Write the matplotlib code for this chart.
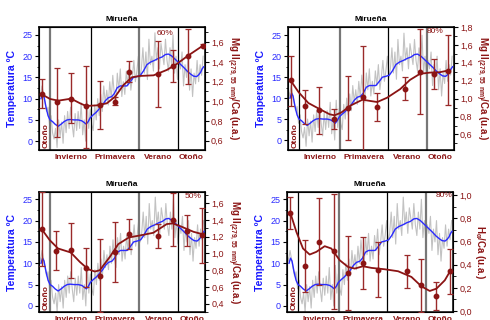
import numpy as np
import matplotlib
matplotlib.use('Agg')
import matplotlib.pyplot as plt
from matplotlib.ticker import MultipleLocator, FuncFormatter
import matplotlib.transforms as mtransforms

plt.rcParams['font.family'] = ['Liberation Sans', 'DejaVu Sans']
plt.rcParams['mathtext.fontset'] = 'custom'
plt.rcParams['mathtext.rm'] = 'Liberation Sans'

# daily temperature (grey), every 3 days from day 0
temp_daily = [12, 10.5, 13, 11, 9, 7, 8, 4, 6, 2,
              0.5, 3, -1.5, 5, 1, 4.5, -0.5, 6, 2, 7,
              3, 8, 4, 1, 6.5, 2.5, 7, 3, 9, 1.5,
              5, 0, 9.5, 3, 7.5, 4, 2.5, 8.5, 5, 10,
              6, 11, 7, 13, 9, 12, 8.5, 14, 10, 15.5,
              11, 9, 16, 12, 17, 10.5, 14, 11, 16.5, 13,
              18, 12, 15, 19, 14, 16.5, 20, 15, 17, 22,
              16, 21, 14.5, 24, 18, 20, 16.5, 25.5, 19, 22,
              17, 23, 20.5, 18, 24, 19, 16.5, 22, 18, 25,
              16, 20, 14.5, 19, 17, 21, 13, 18, 15, 20,
              12, 17, 10.5, 16, 13.5, 19, 14, 18, 15.5, 20]
temp_daily_day = np.arange(0, 330, 3)

# smoothed temperature (blue)
temp_smooth_day = [4, 7, 10, 14, 18, 22, 27, 32, 38, 44, 50, 56, 62, 70, 78, 85, 90, 94, 98, 102,
                   108, 114, 120, 126, 132, 138, 145, 150, 156, 162, 168, 175, 182, 188, 195, 202,
                   208, 215, 222, 230, 238, 245, 252, 258, 265, 272, 280, 288, 296, 302, 308, 314,
                   318, 322, 325, 328]
temp_smooth = [10.0, 11.2, 10.5, 8.0, 6.0, 5.0, 4.6, 4.0, 3.5, 4.0, 4.6, 5.0, 5.1, 5.0, 5.0, 4.8,
               4.4, 4.0, 4.6, 5.5, 6.2, 6.8, 7.6, 8.4, 9.5, 10.2, 10.5, 11.2, 12.6, 13.0, 13.0, 13.0,
               14.0, 15.0, 15.2, 15.5, 16.5, 18.0, 18.6, 19.0, 19.5, 19.8, 20.4, 20.5, 20.0, 19.2,
               18.3, 17.4, 16.4, 15.8, 15.3, 15.2, 15.6, 16.2, 17.0, 17.5]

season_bounds = [22.4, 103.3, 199, 276.5]
season_names = ['Invierno', 'Primavera', 'Verano', 'Otoño']

# panel 1: Mg II 60%
p1_day = [6, 35, 64, 94, 122, 152, 180, 238, 267, 296, 327]
p1_val = [1.071, 0.993, 1.027, 0.949, 0.966, 0.997, 1.302, 1.281, 1.356, 1.461, 1.566]
p1_top = [1.224, 1.342, 1.285, 1.363, 1.207, 1.04, 1.414, 1.617, 1.522, 1.739, 1.58]
p1_bot = [0.929, 0.634, 0.776, 0.529, 0.719, 0.96, 1.2, 0.939, 1.193, 1.173, 1.55]
p1_cday = [6, 22, 38.6, 63.9, 81.8, 93.8, 115.1, 135.1, 151.7, 168.3, 185, 201.6, 228.2, 254.8,
           274.8, 296.1, 326.7]
p1_cval = [1.07, 1.024, 1.007, 1.027, 0.98, 0.953, 0.959, 0.98, 1.047, 1.166, 1.244, 1.258, 1.264,
           1.319, 1.38, 1.461, 1.566]

# panel 2: Mg II 80%
p2_day = [5.2, 34, 62.7, 90.8, 119.6, 148.4, 177.1, 234, 262.7, 290.8, 319]
p2_val = [1.202, 0.914, 0.870, 0.774, 0.899, 1.017, 0.906, 1.110, 1.302, 1.279, 1.309]
p2_top = [1.479, 1.091, 1.135, 0.884, 1.257, 1.59, 1.062, 1.239, 1.778, 1.442, 1.708]
p2_bot = [0.914, 0.722, 0.6, 0.666, 0.537, 0.42, 0.748, 0.98, 0.833, 1.11, 0.932]
p2_cday = [5.2, 20.9, 40.5, 62.7, 83, 92.8, 105.9, 125.5, 148.4, 164.7, 177.8, 197.4, 223.5,
           243.1, 262.7, 282.4, 302, 319]
p2_cval = [1.202, 1.073, 0.951, 0.884, 0.825, 0.814, 0.844, 0.925, 0.988, 0.973, 0.962, 1.01,
           1.106, 1.209, 1.276, 1.29, 1.294, 1.313]

# panel 3: Mg II 50%
p3_day = [5.3, 34.5, 63.1, 93, 120.8, 150.1, 178.6, 237, 265.6, 294.8, 324]
p3_val = [1.292, 1.032, 1.04, 0.832, 0.728, 1.016, 1.232, 1.208, 1.404, 1.272, 1.22]
p3_top = [1.732, 1.272, 1.368, 1.06, 1.168, 1.372, 1.416, 1.356, 1.728, 1.456, 1.548]
p3_bot = [0.848, 0.8, 0.712, 0.6, 0.3, 0.66, 1.048, 1.06, 1.088, 1.088, 0.888]
p3_cday = [5.3, 21.2, 37.8, 63.1, 81, 97.6, 110.9, 120.8, 140.8, 157.4, 178.6, 200.5, 227.1,
           253.7, 265.6, 283.5, 306.8, 324]
p3_cval = [1.292, 1.16, 1.06, 1.012, 0.9, 0.812, 0.784, 0.8, 0.96, 1.112, 1.192, 1.216, 1.248,
           1.352, 1.36, 1.32, 1.26, 1.232]

# panel 4: H alpha 80%
p4_day = [6.6, 35.8, 64.3, 92.8, 121.9, 151.1, 180.3, 237.9, 267.1, 295.6, 324]
p4_val = [0.847, 0.386, 0.599, 0.519, 0.326, 0.412, 0.357, 0.343, 0.222, 0.127, 0.343]
p4_top = [0.986, 0.611, 0.971, 1.01, 0.646, 0.634, 0.597, 0.487, 0.452, 0.251, 0.539]
p4_bot = [0.703, 0.164, 0.222, 0.02, 0.006, 0.193, 0.121, 0.202, -0.01, 0.006, 0.15]
p4_cday = [6.6, 18.6, 31.8, 45.1, 58.3, 74.9, 88.1, 104.7, 121.3, 134.5, 151.1, 167.7, 194.2,
           220.7, 247.2, 267.1, 283.6, 296.9, 313.5, 324]
p4_cval = [0.847, 0.683, 0.539, 0.487, 0.51, 0.559, 0.539, 0.438, 0.38, 0.366, 0.386, 0.372,
           0.36, 0.343, 0.294, 0.213, 0.173, 0.193, 0.265, 0.343]

RED = '#8b1414'
BLUE = '#2a2aff'
mg_label = 'Mg II$_{\\mathregular{(279,55\\ nm)}}$/Ca (u.a.)'
ha_label = 'H$_{\\mathregular{\\alpha}}$/Ca (u.a.)'


def _comma(v, pos):
    return '{:.1f}'.format(v).replace('.', ',')


def _panel(fig, rect, pts, curve, ylim_t, ylim_r, rlabel, pct, pct_xy, vcols):
    '''
    One Mirueña panel: temperature on the left axis, index on the right axis.
    '''
    ax = fig.add_axes(rect)
    ax.plot(temp_daily_day, temp_daily, color='#c2c2c2', lw=0.8, zorder=1)
    ax.plot(temp_smooth_day, temp_smooth, color=BLUE, lw=1.0, zorder=3)
    for b, c in zip(season_bounds, vcols):
        if c == 'g':
            ax.axvline(b, color='#777777', lw=1.6, zorder=2)
        else:
            ax.axvline(b, color='black', lw=0.9, zorder=2)
    ax.set_xlim(0, 330)
    ax.set_ylim(*ylim_t)
    ax.set_xticks([])
    ax.yaxis.set_major_locator(MultipleLocator(5))
    ax.yaxis.set_minor_locator(MultipleLocator(2.5))
    ax.tick_params(axis='y', which='major', labelsize=6.5, labelcolor=BLUE, length=3, width=0.8, pad=1.5)
    ax.tick_params(axis='y', which='minor', length=1.8, width=0.6)
    ax.set_ylabel('Temperatura ºC', color='#1a1aff', fontsize=7.6, fontweight='bold', labelpad=4)
    ax.set_title('Mirueña', fontsize=6, fontweight='bold', pad=4)
    for s in ax.spines.values():
        s.set_linewidth(1.1)
    # season labels
    trans = mtransforms.blended_transform_factory(ax.transData, ax.transAxes)
    edges = season_bounds + [330]
    for i, name in enumerate(season_names):
        ax.text((edges[i] + edges[i + 1]) / 2, -0.03, name, transform=trans, ha='center', va='top',
                fontsize=6, fontweight='bold', color=RED)
    ax.text(0.04, 0.02, 'Otoño', transform=ax.transAxes, rotation=90, ha='center', va='bottom',
            fontsize=6, fontweight='bold', color=RED)

    ax2 = ax.twinx()
    day, val, top, bot = pts
    val = np.array(val)
    yerr = [val - np.array(bot), np.array(top) - val]
    ax2.errorbar(day, val, yerr=yerr, fmt='none', ecolor='#9a2a2a', elinewidth=1.0, capsize=2.2,
                 capthick=0.9, zorder=4)
    ax2.plot(curve[0], curve[1], color=RED, lw=1.3, zorder=5)
    ax2.plot(day, val, 'o', color=RED, ms=3.2, zorder=6)
    ax2.set_ylim(*ylim_r)
    ax2.yaxis.set_major_locator(MultipleLocator(0.2))
    ax2.yaxis.set_minor_locator(MultipleLocator(0.1))
    ax2.yaxis.set_major_formatter(FuncFormatter(_comma))
    ax2.tick_params(axis='y', which='major', labelsize=6.5, labelcolor=RED, length=3, width=0.8, pad=1.5)
    ax2.tick_params(axis='y', which='minor', length=1.8, width=0.6)
    ax2.set_ylabel(rlabel, color=RED, fontsize=7.0, fontweight='bold', rotation=270, va='bottom',
                   labelpad=0.5)
    ax2.text(pct_xy[0], pct_xy[1], pct, transform=ax2.transAxes, ha='center', va='center',
             fontsize=6, color=RED)
    return ax, ax2


def make_plot(ofile):
    fig = plt.figure(figsize=(4.9, 3.2), dpi=100)
    _panel(fig, [0.0796, 0.531, 0.338, 0.385], (p1_day, p1_val, p1_top, p1_bot), (p1_cday, p1_cval),
           (-2.1, 26.9), (0.505, 1.756), mg_label, '60%', (0.76, 0.95), 'gkgk')
    _panel(fig, [0.5878, 0.531, 0.338, 0.385], (p2_day, p2_val, p2_top, p2_bot), (p2_cday, p2_cval),
           (-2.4, 27.0), (0.426, 1.80), mg_label, '80%', (0.89, 0.96), 'kgkg')
    _panel(fig, [0.0796, 0.024, 0.339, 0.376], (p3_day, p3_val, p3_top, p3_bot), (p3_cday, p3_cval),
           (-1.5, 26.7), (0.296, 1.736), mg_label, '50%', (0.93, 0.96), 'gkgk')
    _panel(fig, [0.5857, 0.024, 0.339, 0.376], (p4_day, p4_val, p4_top, p4_bot), (p4_cday, p4_cval),
           (-1.5, 26.7), (-0.011, 1.026), ha_label, '80%', (0.945, 0.975), 'kgkg')
    fig.savefig(ofile, dpi=100)
    plt.close(fig)


if __name__ == '__main__':
    make_plot('out.png')
